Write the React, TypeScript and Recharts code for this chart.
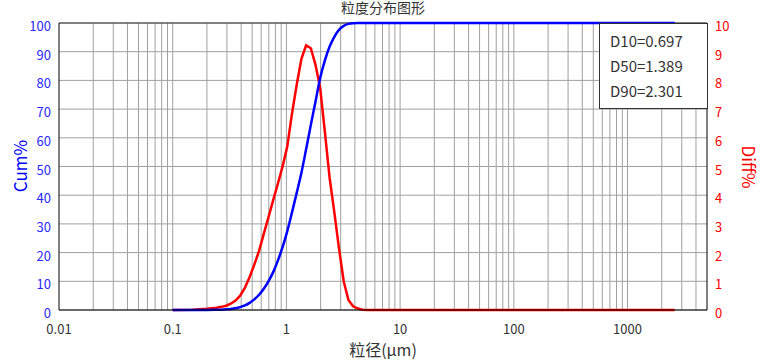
import { CartesianGrid, Line, LineChart, ReferenceLine, XAxis, YAxis } from "recharts";

// particle size (μm)
const sizes = [
  0.1, 0.15, 0.2, 0.244, 0.268, 0.295, 0.324, 0.357, 0.392, 0.432, 0.475, 0.522, 0.575, 0.632,
  0.695, 0.765, 0.841, 0.925, 1.018, 1.12, 1.232, 1.355, 1.49, 1.64, 1.8, 1.98, 2.18, 2.4, 2.64,
  2.9, 3.19, 3.51, 3.86, 4.25, 4.67, 5.14, 6, 8, 10, 15, 20, 30, 50, 80, 100, 150, 200, 300, 500,
  800, 1000, 1500, 2000, 2600,
];
// cumulative %
const cum = [
  0, 0, 0.02, 0.08, 0.13, 0.22, 0.36, 0.6, 1.0, 1.6, 2.5, 3.7, 5.3, 7.4, 10.0, 13.2, 17.2, 21.9,
  27.5, 34.0, 40.8, 47.8, 56.0, 64.5, 72.5, 80.8, 87.0, 91.8, 95.2, 97.6, 99.0, 99.7, 99.95, 100,
  100, 100, 100, 100, 100, 100, 100, 100, 100, 100, 100, 100, 100, 100, 100, 100, 100, 100, 100, 100,
];
// differential %
const diff = [
  0, 0.01, 0.04, 0.08, 0.11, 0.15, 0.22, 0.33, 0.5, 0.78, 1.15, 1.58, 2.06, 2.65, 3.23, 3.83, 4.4,
  5.0, 5.7, 6.85, 7.85, 8.75, 9.22, 9.12, 8.55, 7.75, 6.2, 4.6, 3.4, 2.15, 1.0, 0.35, 0.13, 0.05,
  0.01, 0, 0, 0, 0, 0, 0, 0, 0, 0, 0, 0, 0, 0, 0, 0, 0, 0, 0, 0,
];

const xTicks = [0.01, 0.1, 1, 10, 100, 1000];
const leftTicks = [0, 10, 20, 30, 40, 50, 60, 70, 80, 90, 100];
const rightTicks = [0, 1, 2, 3, 4, 5, 6, 7, 8, 9, 10];
const decades = [0.01, 0.1, 1, 10, 100, 1000];
const gridMults = [2, 3, 4, 5, 6, 7, 8, 9];
const dValues = ["D10=0.697", "D50=1.389", "D90=2.301"];

const data = sizes.map((s, i) => ({ size: s, cum: cum[i], diff: diff[i] }));

const minorGrid: number[] = [];
decades.forEach((d, i) => {
  if (i > 0) minorGrid.push(d);
  gridMults.forEach((m) => {
    const v = +(d * m).toPrecision(3);
    if (v < 5000) minorGrid.push(v);
  });
});

const FONT = "'Noto Sans CJK SC', 'Noto Sans', sans-serif";

const LeftTick = (p: any) => (
  <text x={p.x} y={p.y + 8} textAnchor="end" fill="#2a2aff" fontSize={13} fontFamily={FONT}>
    {p.payload.value}
  </text>
);
const RightTick = (p: any) => (
  <text x={p.x} y={p.y + 8} textAnchor="start" fill="#ff0000" fontSize={13} fontFamily={FONT}>
    {p.payload.value}
  </text>
);
const BottomTick = (p: any) => (
  <text x={p.x} y={p.y + 16} textAnchor="middle" fill="#333" fontSize={13} fontFamily={FONT}>
    {p.payload.value}
  </text>
);

export default function App() {
  return (
    <div style={{ position: "absolute", left: 0, top: 0, width: 769, height: 362, background: "#fff" }}>
      <LineChart width={769} height={362} data={data} margin={{ top: 23, right: 0, left: 0, bottom: 0 }}>
        <CartesianGrid yAxisId="left" vertical={false} stroke="#a0a0a0" />
        {minorGrid.map((v) => (
          <ReferenceLine key={v} x={v} yAxisId="left" stroke="#a0a0a0" />
        ))}
        <ReferenceLine y={100} yAxisId="left" stroke="#333" />
        <XAxis
          dataKey="size"
          type="number"
          scale="log"
          domain={[0.01, 5000]}
          ticks={xTicks}
          height={52}
          tickLine={false}
          axisLine={{ stroke: "#000" }}
          tick={BottomTick}
          interval={0}
        />
        <YAxis
          yAxisId="left"
          domain={[0, 100]}
          ticks={leftTicks}
          width={59}
          tickLine={false}
          axisLine={{ stroke: "#000" }}
          tick={LeftTick}
          interval={0}
        />
        <YAxis
          yAxisId="right"
          orientation="right"
          domain={[0, 10]}
          ticks={rightTicks}
          width={62}
          tickLine={false}
          axisLine={{ stroke: "#000" }}
          tick={RightTick}
          interval={0}
        />
        <Line yAxisId="right" type="linear" dataKey="diff" stroke="#ff0000" strokeWidth={2.5} dot={false} isAnimationActive={false} />
        <Line yAxisId="left" type="monotone" dataKey="cum" stroke="#0000ff" strokeWidth={2.5} dot={false} isAnimationActive={false} />
      </LineChart>
      <svg width={769} height={362} style={{ position: "absolute", left: 0, top: 0, pointerEvents: "none" }} fontFamily={FONT}>
        <text x={383} y={12.5} textAnchor="middle" fontSize={14} fill="#333">粒度分布图形</text>
        <text x={383} y={356} textAnchor="middle" fontSize={16} fill="#333">粒径(μm)</text>
        <text x={19} y={166} textAnchor="middle" dominantBaseline="central" fontSize={17} fill="#0000ff" transform="rotate(-90 19 166)">Cum%</text>
        <text x={749} y={167} textAnchor="middle" dominantBaseline="central" fontSize={17} fill="#ff0000" transform="rotate(90 749 167)">Diff%</text>
        <rect x={599.5} y={23.5} width={108} height={85} fill="#fff" stroke="#333" />
        {dValues.map((t, i) => (
          <text key={t} x={610} y={47 + i * 25} fontSize={15} fill="#333">{t}</text>
        ))}
      </svg>
    </div>
  );
}
